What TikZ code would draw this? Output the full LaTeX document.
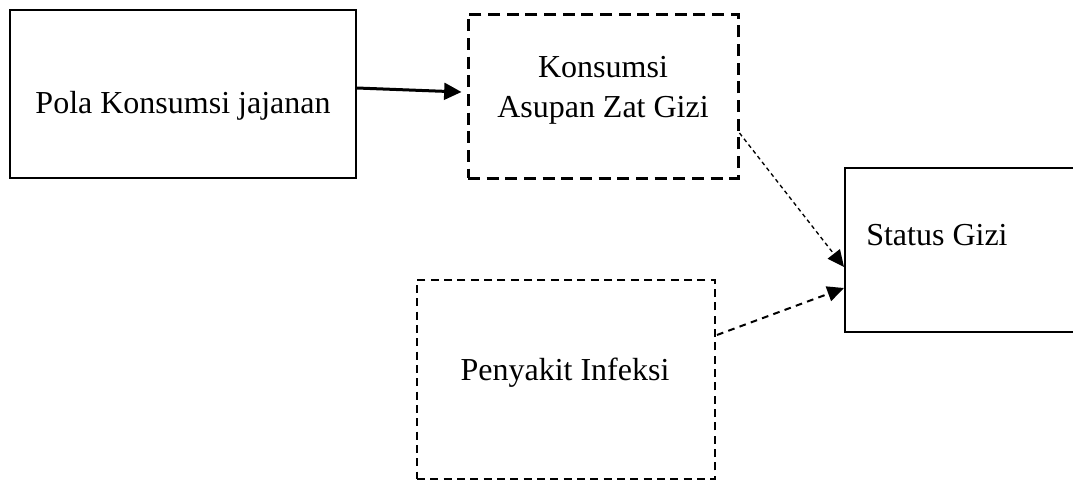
\documentclass[tikz,border=0pt]{standalone}
\usepackage{fontspec}
\setmainfont{Liberation Serif}
\usetikzlibrary{arrows.meta}
\begin{document}
\begin{tikzpicture}[x=0.75pt,y=-0.75pt,
  lbl/.style={inner sep=0pt, font=\fontsize{24}{30}\selectfont},
  con/.style={-{Triangle[length=12.5pt,width=11.5pt]}},
]
\useasboundingbox (0,0) rectangle (1073,479);
% boxes
\node[draw, line width=1.5pt, minimum width=346*0.75pt, minimum height=168*0.75pt, inner sep=0pt] (pola) at (183,94) {};
\node[draw, line width=2.25pt, dash pattern=on 9pt off 5pt, minimum width=270*0.75pt, minimum height=164*0.75pt, inner sep=0pt] (asupan) at (603,96) {};
\node[draw, line width=1.5pt, minimum width=236*0.75pt, minimum height=164*0.75pt, inner sep=0pt] (status) at (963,250) {};
\node[draw, line width=1.5pt, dash pattern=on 6pt off 4pt, minimum width=298*0.75pt, minimum height=199*0.75pt, inner sep=0pt] (infeksi) at (566,379.5) {};
% texts
\node[lbl, anchor=base] (tpola) at (183,113) {Pola Konsumsi jajanan};
\node[lbl, anchor=base, align=center] (tasupan) at (603,117) {Konsumsi\\Asupan Zat Gizi};
\node[lbl, anchor=base west] (tstatus) at (866,245) {Status Gizi};
\node[lbl, anchor=base] (tinfeksi) at (565,380) {Penyakit Infeksi};
% connectors
\draw[line width=2.25pt, -{Triangle[length=13pt,width=12.5pt]}] ([yshift=4.5pt]pola.east) -- ([xshift=-3.75pt,yshift=3pt]asupan.west);
\draw[con, line width=1pt, dash pattern=on 3pt off 2.5pt] ([yshift=-27.75pt]asupan.east) -- ([yshift=-12.75pt]status.west);
\draw[con, line width=1.5pt, dash pattern=on 5pt off 4pt] ([xshift=0.75pt,yshift=33.4pt]infeksi.east) -- ([yshift=-28.5pt]status.west);
\end{tikzpicture}
\end{document}
